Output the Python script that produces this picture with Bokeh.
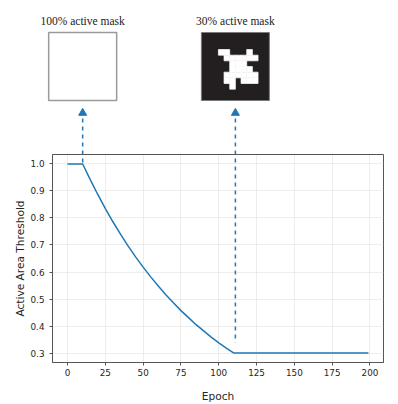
from bokeh.plotting import figure
from bokeh.models import Range1d, FixedTicker, CustomJSTickFormatter
from bokeh.core.properties import value
from bokeh.embed import file_html
from bokeh.resources import INLINE

# ---- data ----
epochs = [0, 10, 15, 20, 25, 30, 35, 40, 45, 50, 55, 60, 65, 70, 75, 80,
          85, 90, 95, 100, 105, 110, 199]
thresholds = [1.0, 1.0, 0.942, 0.887, 0.835, 0.786, 0.740, 0.697, 0.656, 0.618,
              0.582, 0.548, 0.516, 0.486, 0.457, 0.431, 0.405, 0.382, 0.359,
              0.338, 0.318, 0.300, 0.300]
x_ticks = [0, 25, 50, 75, 100, 125, 150, 175, 200]
y_ticks = [0.3, 0.4, 0.5, 0.6, 0.7, 0.8, 0.9, 1.0]
mask_titles = ["100% active mask", "30% active mask"]
mask_epochs = [10, 111]          # epoch each mask / dashed arrow sits at
mask_arrow_base = [1.0, 0.338]   # threshold where each dashed arrow starts
# 30% mask pattern (1 = active / white), 12x12 grid
mask30 = [
    "000000000000",
    "000000000000",
    "000000000000",
    "000110001000",
    "000011111100",
    "000001110000",
    "000001111000",
    "000011111100",
    "000011011100",
    "000001000000",
    "000000000000",
    "000000000000",
]

BLUE = "#1f77b4"
TXT = "#262626"
FRAME = "#555555"

W, H = 398, 404
TOP_H = 154                      # height of the mask panel
FL, FR, FB = 52, 15, 42          # main frame borders (left, right, bottom)
X0, X1 = -9.95, 208.95
Y0, Y1 = 0.265, 1.035

# ---------------- main chart ----------------
p = figure(width=W, height=H - TOP_H, output_backend="svg", toolbar_location=None,
           x_range=Range1d(X0, X1), y_range=Range1d(Y0, Y1),
           min_border_left=FL, min_border_right=FR, min_border_top=0,
           min_border_bottom=FB)
p.background_fill_color = "white"
p.border_fill_color = "white"
p.outline_line_color = FRAME
p.outline_line_width = 1

p.line(epochs, thresholds, line_color=BLUE, line_width=1.5)

for ax in (p.xaxis[0], p.yaxis[0]):
    ax.axis_line_color = FRAME
    ax.major_tick_line_color = FRAME
    ax.major_tick_out = 3
    ax.major_tick_in = 0
    ax.minor_tick_line_color = None
    ax.major_label_text_font = "DejaVu Sans"
    ax.major_label_text_font_size = "8.8px"
    ax.major_label_text_color = TXT
    ax.axis_label_text_font = "DejaVu Sans"
    ax.axis_label_text_font_size = "10.6px"
    ax.axis_label_text_font_style = "normal"
    ax.axis_label_text_color = TXT

p.xaxis.ticker = FixedTicker(ticks=x_ticks)
p.yaxis.ticker = FixedTicker(ticks=y_ticks)
p.yaxis.formatter = CustomJSTickFormatter(code="return tick.toFixed(1);")
p.xaxis.axis_label = "Epoch"
p.yaxis.axis_label = "Active Area Threshold"
p.xaxis.major_label_standoff = 3
p.xaxis.axis_label_standoff = 11
p.yaxis.major_label_standoff = 5
p.yaxis.axis_label_standoff = 2

p.grid.grid_line_color = "#d0d0d0"
p.grid.grid_line_dash = "1 1"
p.grid.grid_line_width = 0.8

# dashed part of the arrows inside the chart
p.segment(x0=mask_epochs, y0=[Y1] * 2, x1=mask_epochs, y1=mask_arrow_base,
          line_color=BLUE, line_width=1.5, line_dash="4 4", line_dash_offset=4)

# ---------------- mask panel above ----------------
px_per_unit = (W - FL - FR) / (X1 - X0)
tx0 = X0 - FL / px_per_unit
tx1 = X1 + FR / px_per_unit
t = figure(width=W, height=TOP_H, output_backend="svg", toolbar_location=None,
           x_range=Range1d(tx0, tx1), y_range=Range1d(TOP_H, 0),
           x_axis_location=None, y_axis_location=None,
           min_border=0, min_border_left=0, min_border_right=0,
           min_border_top=0, min_border_bottom=0)
t.outline_line_color = None
t.grid.visible = False
t.background_fill_color = "white"
t.border_fill_color = "white"

half = 34 / px_per_unit          # half box width (68 px)
t.text(x=mask_epochs, y=[20, 20], text=mask_titles, text_align="center",
       text_baseline="middle", text_font=value("Liberation Serif"),
       text_font_size="11.5px", text_color="#1a1a1a")
t.quad(left=[mask_epochs[0] - half], right=[mask_epochs[0] + half],
       top=[32], bottom=[100], fill_color="white",
       line_color="#9a9a9a", line_width=1.5)
t.quad(left=[mask_epochs[1] - half], right=[mask_epochs[1] + half],
       top=[32], bottom=[100], fill_color="#231f20",
       line_color="#7a7a7a", line_width=1)

n = len(mask30)
cell = 2 * half / n
cell_px = 68 / n
ml, mr, mt, mb = [], [], [], []
for r, row in enumerate(mask30):
    for c, ch in enumerate(row):
        if ch == "1":
            ml.append(mask_epochs[1] - half + c * cell)
            mr.append(mask_epochs[1] - half + (c + 1) * cell)
            mt.append(32 + r * cell_px)
            mb.append(32 + (r + 1) * cell_px)
t.quad(left=ml, right=mr, top=mt, bottom=mb, fill_color="white",
       line_color="white", line_width=0.7)

# dashed arrows with heads
t.segment(x0=mask_epochs, y0=[TOP_H] * 2, x1=mask_epochs, y1=[116, 116],
          line_color=BLUE, line_width=1.5, line_dash="4 4")
t.scatter(x=mask_epochs, y=[112.5, 112.5], marker="triangle", size=8,
          fill_color=BLUE, line_color=BLUE)

open("out.html", "w").write(file_html([t, p], INLINE))
